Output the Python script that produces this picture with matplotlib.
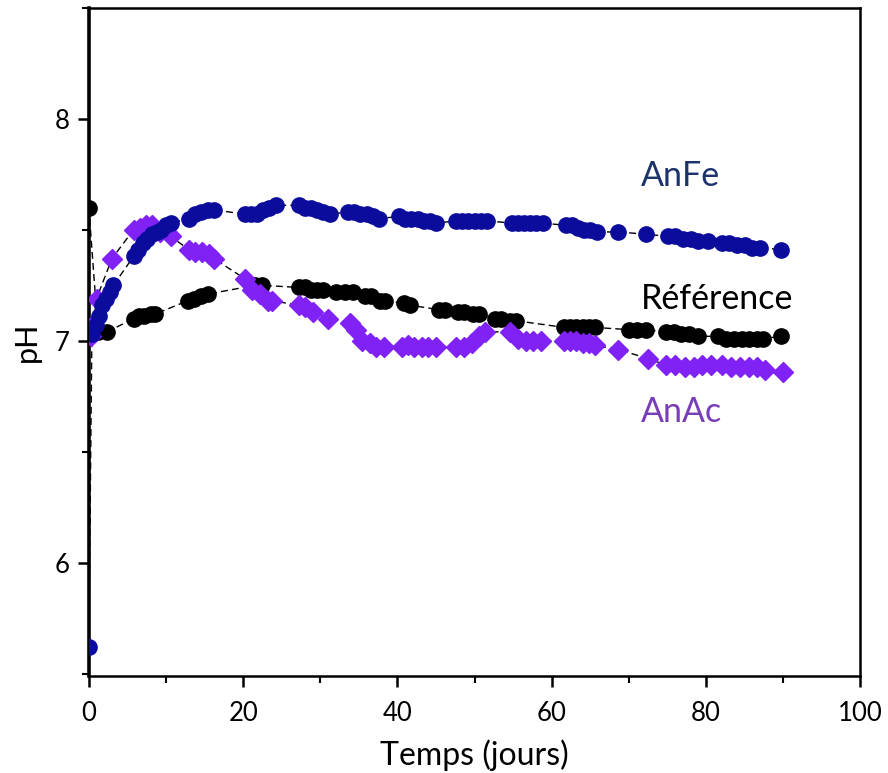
import matplotlib
matplotlib.use('Agg')
import matplotlib.pyplot as plt
from matplotlib.ticker import MultipleLocator

plt.rcParams['font.family'] = ['Lato', 'DejaVu Sans']

# AnFe (blue circles)
anfe_t = [0, 0.4, 0.9, 1.3, 1.7, 2.2, 2.7, 3.2, 5.8, 6.4, 7.0, 7.6, 8.2, 8.8, 9.4, 10.0, 10.6,
          13.0, 13.8, 14.6, 15.4, 16.2, 20.2, 21.0, 21.8, 22.6, 23.4, 24.2, 27.2, 28.0, 28.8,
          29.6, 30.4, 31.2, 33.6, 34.4, 35.2, 36.0, 36.8, 37.6, 40.2, 41.0, 41.8, 42.6, 43.4,
          44.2, 45.0, 47.6, 48.4, 49.2, 50.0, 50.8, 51.6, 54.8, 55.6, 56.4, 57.2, 58.0, 58.8,
          61.8, 62.6, 63.4, 64.2, 65.0, 65.8, 68.6, 72.2, 75.0, 76.0, 77.0, 78.0, 79.0, 80.2,
          82.0, 83.0, 84.0, 85.0, 86.0, 87.0, 89.7]
anfe_ph = [5.62, 7.03, 7.07, 7.11, 7.16, 7.19, 7.22, 7.25, 7.38, 7.41, 7.44, 7.46, 7.48, 7.49,
           7.50, 7.52, 7.53, 7.55, 7.57, 7.58, 7.59, 7.59, 7.57, 7.57, 7.57, 7.59, 7.60, 7.61,
           7.61, 7.60, 7.60, 7.59, 7.58, 7.57, 7.58, 7.58, 7.57, 7.57, 7.56, 7.55, 7.56, 7.55,
           7.55, 7.55, 7.54, 7.54, 7.53, 7.54, 7.54, 7.54, 7.54, 7.54, 7.54, 7.53, 7.53, 7.53,
           7.53, 7.53, 7.53, 7.52, 7.52, 7.51, 7.50, 7.50, 7.49, 7.49, 7.48, 7.47, 7.47, 7.46,
           7.46, 7.45, 7.45, 7.44, 7.44, 7.43, 7.43, 7.42, 7.42, 7.41]

# Reference (black circles)
ref_t = [0, 1.2, 2.4, 5.8, 6.5, 7.2, 8.0, 8.6, 12.8, 13.6, 14.6, 15.4, 21.6, 22.4, 27.2, 28.0,
         28.8, 29.6, 30.4, 32.0, 33.2, 34.2, 35.8, 36.6, 37.8, 38.4, 40.8, 41.6, 45.4, 46.2,
         47.8, 48.6, 49.8, 50.6, 52.6, 53.4, 54.6, 55.4, 61.6, 62.4, 63.2, 64.0, 64.8, 65.6,
         70.0, 71.0, 72.2, 74.8, 75.8, 76.8, 77.8, 79.0, 81.6, 82.6, 83.6, 84.6, 85.6, 86.6,
         87.4, 89.7]
ref_ph = [7.60, 7.04, 7.04, 7.10, 7.11, 7.11, 7.12, 7.12, 7.18, 7.19, 7.20, 7.21, 7.25, 7.25,
          7.24, 7.24, 7.23, 7.23, 7.23, 7.22, 7.22, 7.22, 7.20, 7.20, 7.18, 7.18, 7.17, 7.16,
          7.14, 7.14, 7.13, 7.13, 7.12, 7.12, 7.10, 7.10, 7.09, 7.09, 7.06, 7.06, 7.06, 7.06,
          7.06, 7.06, 7.05, 7.05, 7.05, 7.04, 7.04, 7.03, 7.03, 7.02, 7.02, 7.01, 7.01, 7.01,
          7.01, 7.01, 7.01, 7.02]

# AnAc (purple diamonds)
anac_t = [0.3, 0.6, 1.0, 3.0, 5.8, 6.6, 7.4, 8.2, 9.2, 10.6, 13.0, 13.8, 14.7, 15.6, 16.2,
          20.2, 21.2, 22.2, 23.2, 23.8, 27.2, 28.0, 29.0, 31.0, 33.8, 34.6, 35.4, 36.4, 37.2,
          38.2, 40.6, 41.4, 42.2, 43.2, 44.0, 45.0, 47.6, 48.6, 49.6, 50.6, 51.4, 54.6, 55.6,
          56.6, 57.6, 58.6, 61.6, 62.4, 63.2, 64.0, 64.8, 65.6, 68.6, 72.5, 74.8, 76.0, 77.2,
          78.4, 79.4, 80.6, 82.0, 83.2, 84.4, 85.6, 86.6, 87.6, 89.9]
anac_ph = [7.02, 7.07, 7.19, 7.37, 7.50, 7.51, 7.52, 7.52, 7.49, 7.47, 7.41, 7.40, 7.40, 7.39,
           7.37, 7.28, 7.23, 7.21, 7.18, 7.18, 7.16, 7.15, 7.13, 7.10, 7.08, 7.05, 7.00, 6.99,
           6.97, 6.97, 6.97, 6.98, 6.97, 6.97, 6.97, 6.97, 6.97, 6.97, 6.99, 7.02, 7.04, 7.04,
           7.01, 7.00, 7.00, 7.00, 7.00, 7.00, 7.00, 6.99, 6.99, 6.98, 6.96, 6.92, 6.89, 6.89,
           6.88, 6.88, 6.89, 6.89, 6.89, 6.88, 6.88, 6.88, 6.88, 6.87, 6.86]

blue = '#0c0c9c'
purple = '#8022f5'

fig = plt.figure(figsize=(8.88, 7.73), dpi=100)
ax = fig.add_axes([0.100, 0.1255, 0.869, 0.8645])

# thin dashed connecting lines
for t, ph in [(ref_t, ref_ph), (anac_t, anac_ph), (anfe_t, anfe_ph)]:
    ax.plot(t, ph, linestyle=(0, (5, 3)), color='black', lw=1.0, zorder=1)

ax.plot(ref_t, ref_ph, 'o', color='black', ms=11, zorder=2)
ax.plot(anac_t, anac_ph, 'D', color=purple, ms=10.5, zorder=3)
ax.plot(anfe_t, anfe_ph, 'o', color=blue, ms=11, zorder=4)

ax.text(71.5, 7.74, 'AnFe', color='#1c336b', fontsize=24.5, va='center')
ax.text(71.5, 7.19, 'Référence', color='black', fontsize=24.5, va='center')
ax.text(71.5, 6.68, 'AnAc', color='#7a3db8', fontsize=24.5, va='center')

ax.set_xlim(0, 100)
ax.set_ylim(5.49, 8.5)
ax.xaxis.set_major_locator(MultipleLocator(20))
ax.xaxis.set_minor_locator(MultipleLocator(10))
ax.yaxis.set_major_locator(MultipleLocator(1))
ax.yaxis.set_minor_locator(MultipleLocator(0.5))
ax.tick_params(which='major', direction='out', length=8, width=1.8, labelsize=18.5)
ax.tick_params(axis='x', which='major', pad=10)
ax.tick_params(axis='y', which='major', pad=6)
ax.tick_params(which='minor', direction='out', length=5, width=1.5)
for s in ax.spines.values():
    s.set_linewidth(1.8)
ax.spines['left'].set_linewidth(2.6)

ax.set_xlabel('Temps (jours)', fontsize=23, labelpad=10)
ax.set_ylabel('pH', fontsize=22, labelpad=10)

fig.savefig('out.png', dpi=100)
